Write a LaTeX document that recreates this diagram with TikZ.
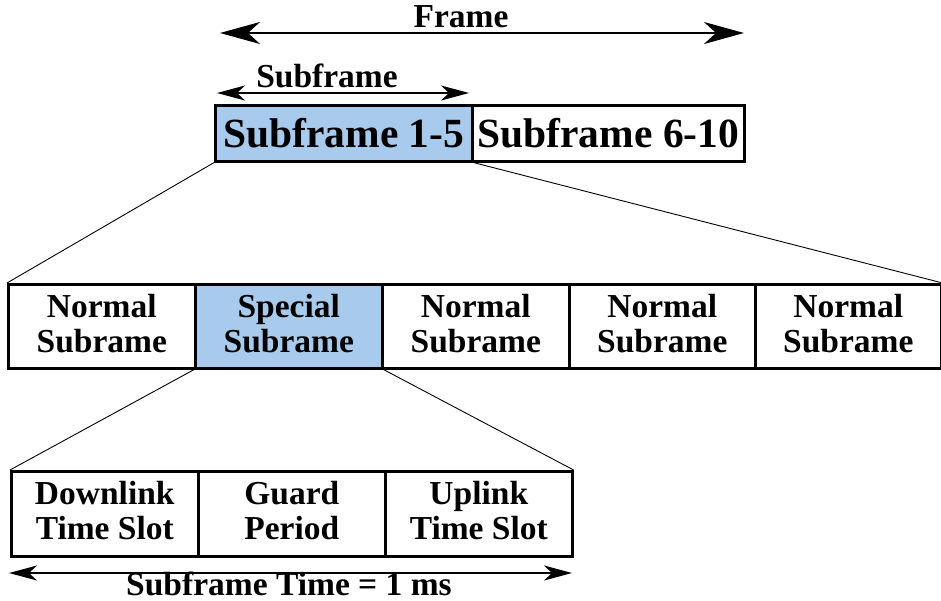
\documentclass[tikz,border=0pt]{standalone}
\usepackage{fontspec}
\setmainfont{Liberation Serif}
\usetikzlibrary{arrows.meta}
\definecolor{hl}{HTML}{A8CAEC}
\begin{document}
\begin{tikzpicture}[x=1pt,y=-1pt,
  box/.style={draw=black,line width=2.6pt,rectangle,inner sep=0pt,anchor=north west,align=center,
    font=\bfseries\fontsize{33.5}{35}\selectfont},
  twoline/.style={box,text depth=6pt},
  bigbox/.style={box,font=\bfseries\fontsize{41.5}{44}\selectfont},
  fan/.style={draw=black,line width=0.9pt},
  dim/.style={line width=1.8pt,{Stealth[length=28pt,width=15pt,inset=8pt]}-{Stealth[length=28pt,width=15pt,inset=8pt]}},
  bigdim/.style={line width=2pt,{Stealth[length=40pt,width=22pt,inset=12pt]}-{Stealth[length=40pt,width=22pt,inset=12pt]}},
  lbl/.style={anchor=base,inner sep=0pt,font=\bfseries\fontsize{33.5}{35}\selectfont}]
\useasboundingbox (0,0) rectangle (941,601);
% top row
\node[bigbox,fill=hl,minimum width=257,minimum height=56] (s15) at (214,104) {Subframe 1-5};
\node[bigbox,minimum width=272,minimum height=56] (s610) at (471,104) {Subframe 6-10};
% arrows
\coordinate (fl) at (220,33);
\coordinate (fr) at (744,33);
\draw[bigdim] (fl) -- (fr);
\node[lbl] (flab) at (461,28) {Frame};
\coordinate (sl) at (217,93);
\coordinate (sr) at (469,93);
\draw[dim] (sl) -- (sr);
\node[lbl] (slab) at (327,88) {Subframe};
% middle row
\node[twoline,minimum width=187,minimum height=84] (n1) at (7,283) {Normal\\Subrame};
\node[twoline,fill=hl,minimum width=187,minimum height=84] (n2) at (194,283) {Special\\Subrame};
\node[twoline,minimum width=187,minimum height=84] (n3) at (381,283) {Normal\\Subrame};
\node[twoline,minimum width=186,minimum height=84] (n4) at (568,283) {Normal\\Subrame};
\node[twoline,minimum width=186,minimum height=84] (n5) at (754,283) {Normal\\Subrame};
% bottom row
\node[twoline,minimum width=187,minimum height=85] (b1) at (10,470) {Downlink\\Time Slot};
\node[twoline,minimum width=187,minimum height=85] (b2) at (197,470) {Guard\\Period};
\node[twoline,minimum width=187,minimum height=85] (b3) at (384,470) {Uplink\\Time Slot};
% fan lines
\draw[fan] (s15.south west) -- (n1.north west);
\draw[fan] (s15.south east) -- (n5.north east);
\draw[fan] (n2.south west) -- (b1.north west);
\draw[fan] (n2.south east) -- (b3.north east);
% bottom arrow
\coordinate (bl) at (9,573);
\coordinate (br) at (572,573);
\draw[dim] (bl) -- (br);
\node[lbl] (blab) at (289,595) {Subframe Time = 1 ms};
\end{tikzpicture}
\end{document}
